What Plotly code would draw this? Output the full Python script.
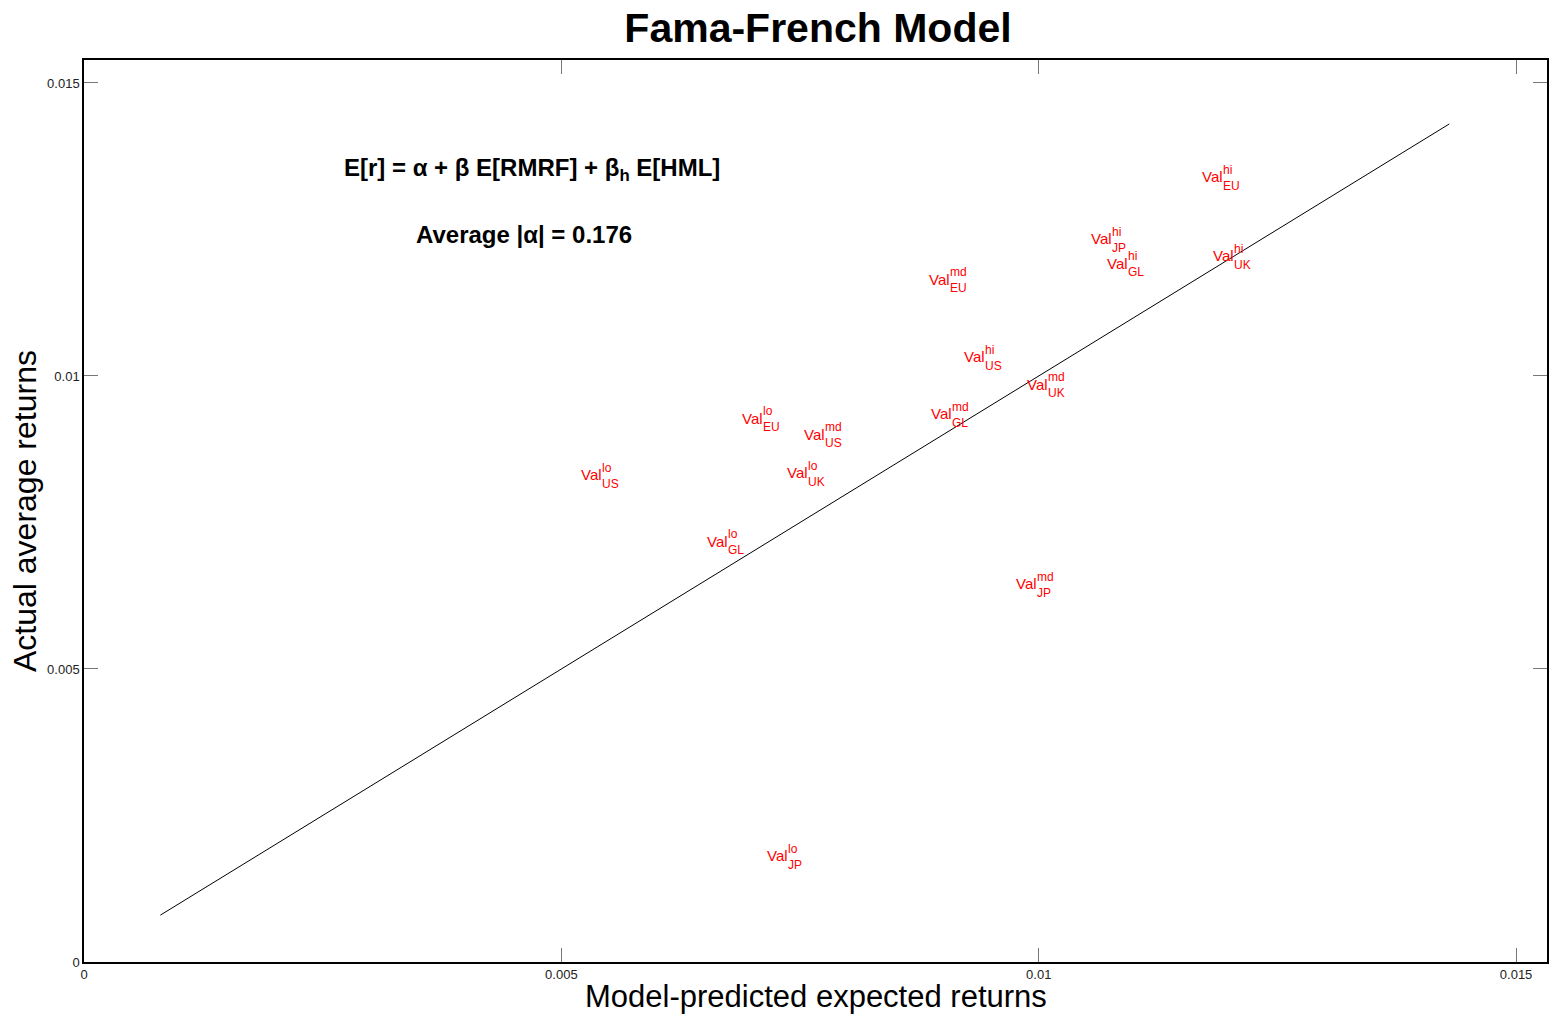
import plotly.graph_objects as go

# ---- data ----
region = ["US", "US", "US", "UK", "UK", "UK", "EU", "EU", "EU",
          "JP", "JP", "JP", "GL", "GL", "GL"]
tercile = ["lo", "md", "hi", "lo", "md", "hi", "lo", "md", "hi",
           "lo", "md", "hi", "lo", "md", "hi"]
predicted = [0.005199, 0.007531, 0.009205, 0.007354, 0.009864, 0.011810,
             0.006883, 0.008839, 0.011705, 0.007144, 0.009749, 0.010533,
             0.006517, 0.008860, 0.010701]
actual = [0.008311, 0.009010, 0.010324, 0.008345, 0.009863, 0.012048,
          0.009275, 0.011655, 0.013404, 0.001809, 0.006451, 0.012338,
          0.007184, 0.009352, 0.011928]
line_x = [0.0008, 0.0143]
line_y = [0.0008, 0.0143]
tick_vals = [0, 0.005, 0.01, 0.015]
tick_text = ["0", "0.005", "0.01", "0.015"]

FONT = "Liberation Sans, Arial, Helvetica, sans-serif"

fig = go.Figure()
fig.add_trace(go.Scatter(x=line_x, y=line_y, mode="lines",
                         line=dict(color="black", width=1), showlegend=False,
                         hoverinfo="skip"))

ann = []
for xv, yv, reg, ter in zip(predicted, actual, region, tercile):
    ann.append(dict(x=xv, y=yv, xref="x", yref="y", text="Val", showarrow=False,
                    xanchor="left", yanchor="middle", borderpad=0,
                    font=dict(family=FONT, size=15, color="#ff0000")))
    ann.append(dict(x=xv, y=yv, xref="x", yref="y", text=ter, showarrow=False,
                    xanchor="left", yanchor="middle", xshift=21, yshift=7, borderpad=0,
                    font=dict(family=FONT, size=12, color="#ff0000")))
    ann.append(dict(x=xv, y=yv, xref="x", yref="y", text=reg, showarrow=False,
                    xanchor="left", yanchor="middle", xshift=21, yshift=-9, borderpad=0,
                    font=dict(family=FONT, size=12, color="#ff0000")))

ann.append(dict(x=0.00271, y=0.01352, xref="x", yref="y",
                text="<b>E[r] = α + β E[RMRF] + β<sub>h</sub> E[HML]</b>",
                showarrow=False, xanchor="left", yanchor="middle", borderpad=0,
                font=dict(family=FONT, size=24, color="black")))
ann.append(dict(x=0.00347, y=0.01241, xref="x", yref="y",
                text="<b>Average |α| = 0.176</b>",
                showarrow=False, xanchor="left", yanchor="middle", borderpad=0,
                font=dict(family=FONT, size=24, color="black")))

# axis titles
ann.append(dict(x=0.5, y=0, xref="paper", yref="paper",
                text="Model-predicted expected returns", showarrow=False,
                xanchor="center", yanchor="middle", yshift=-34,
                font=dict(family=FONT, size=31, color="black")))
ann.append(dict(x=0, y=0.5, xref="paper", yref="paper",
                text="Actual average returns", showarrow=False, textangle=-90,
                xanchor="center", yanchor="middle", xshift=-59,
                font=dict(family=FONT, size=32, color="black")))

axis_common = dict(
    showgrid=False, zeroline=False, showline=True, linecolor="black", linewidth=1.5,
    mirror="ticks", ticks="inside", ticklen=14, tickcolor="#777777", tickwidth=1,
    tickvals=tick_vals, ticktext=tick_text,
    tickfont=dict(family=FONT, size=13, color="#222222"),
)

W, H = 1550, 1015
fig.update_layout(
    width=W, height=H,
    margin=dict(l=84, r=1, t=60, b=53),
    plot_bgcolor="white", paper_bgcolor="white",
    title=dict(text="<b>Fama-French Model</b>", x=818 / W, xanchor="center",
               y=1 - 28 / H, yanchor="middle", yref="container",
               font=dict(family=FONT, size=41, color="black")),
    xaxis=dict(range=[0, 0.015324], **axis_common),
    yaxis=dict(range=[0, 0.015392], **axis_common),
    annotations=ann,
    showlegend=False,
)

# remove the default page margin so the figure fills the window exactly
fig.write_html(
    "out.html",
    config={"displayModeBar": False},
    post_script="document.body.style.margin='0';"
                "document.documentElement.style.overflow='hidden';",
)
